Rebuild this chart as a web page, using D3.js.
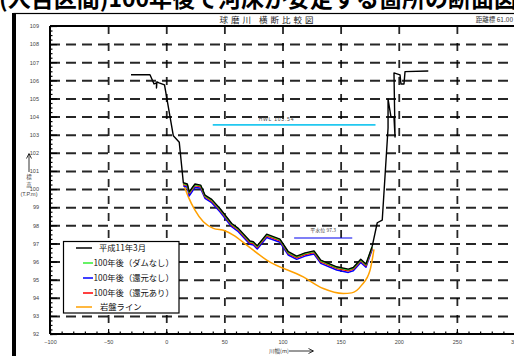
<!DOCTYPE html>
<html>
<head>
<meta charset="utf-8">
<script src="https://cdn.jsdelivr.net/npm/d3@7"></script>
<style>
  body { margin: 0; background: #fff; }
  svg { display: block; }
</style>
</head>
<body>
<svg id="chart" width="514" height="356"></svg>
<script>
// ---- data -------------------------------------------------------------
const xTickValues = [-100, -50, 0, 50, 100, 150, 200, 250, 300];
const yTickValues = [92, 93, 94, 95, 96, 97, 98, 99, 100, 101, 102, 103, 104, 105, 106, 107, 108, 109];

// surveyed section, March 1999 (distance m, elevation T.P.m)
const leftBank = [
  [-30.3, 106.31], [-14.0, 106.31], [-10.5, 105.80], [-8.4, 105.86], [-8.4, 105.58],
  [-8.0, 105.92], [-6.2, 105.86], [-1.5, 105.75], [6.1, 102.94], [11.2, 102.58]
];
const rightBank = [
  [181.5, 98.14], [185.8, 98.29], [190.8, 103.37], [190.8, 104.97], [193.3, 103.98],
  [195.9, 103.98], [196.8, 102.87], [195.9, 106.41], [201.1, 106.30], [201.9, 105.80],
  [204.5, 105.80], [205.4, 106.48], [225.4, 106.52]
];

// riverbed stations shared by the bed series
const bedX = [14.7, 18.1, 19.8, 24.7, 29.6, 33.3, 39.1, 46.2, 56.3, 62.0, 72.0, 74.9, 78.3,
  86.4, 97.8, 105.0, 112.2, 119.4, 127.1, 132.9, 146.6, 156.6, 160.9, 167.3, 171.8, 177.2];
const bedH11 = [100.35, 100.28, 99.85, 100.28, 100.22, 99.67, 99.43, 98.93, 98.10, 97.83, 97.13, 97.09, 96.87,
  97.51, 97.24, 96.54, 96.30, 96.48, 96.59, 96.08, 95.71, 95.58, 95.67, 96.13, 95.86, 96.85];
const bedNoDam = [100.31, 100.24, 99.81, 100.24, 100.18, 99.63, 99.39, 98.89, 98.06, 97.79, 97.09, 97.05, 96.83,
  97.47, 97.20, 96.50, 96.26, 96.44, 96.55, 96.04, 95.67, 95.54, 95.63, 96.09, 95.82, 96.81];
const bedNoReturn = [100.18, 100.10, 99.62, 100.10, 100.04, 99.49, 99.25, 98.75, 97.92, 97.65, 96.95, 96.91, 96.69,
  97.33, 97.06, 96.36, 96.12, 96.30, 96.41, 95.90, 95.53, 95.40, 95.49, 95.95, 95.68, 96.68];
const bedReturn = [100.26, 100.19, 99.76, 100.19, 100.13, 99.58, 99.34, 98.84, 98.01, 97.74, 97.04, 97.00, 96.78,
  97.42, 97.15, 96.45, 96.21, 96.39, 96.50, 95.99, 95.62, 95.49, 95.58, 96.04, 95.77, 96.76];

// bedrock line
const rockX = [14.7, 19.0, 24.7, 31.9, 40.5, 50.5, 57.7, 69.2, 86.4, 117.9, 135.1, 152.3, 159.5, 168.1, 175.3, 178.7];
const rockY = [100.31, 99.57, 98.84, 98.19, 97.83, 97.70, 97.46, 96.91, 96.08, 95.15, 94.51, 94.24, 94.27, 94.70, 95.52, 96.67];

// reference water levels
const hwlLevel = 103.54;
const hwlRange = [40, 180];
const lowWaterLevel = 97.3;
const lowWaterRange = [110, 160];

const legendItems = [
  { label: "平成11年3月", color: "#000000" },
  { label: "100年後（ダムなし）", color: "#33ee33" },
  { label: "100年後（還元なし）", color: "#0000ff" },
  { label: "100年後（還元あり）", color: "#ff0000" },
  { label: "岩盤ライン", color: "#ffa000" }
];

// ---- layout -----------------------------------------------------------
const svg = d3.select("#chart");
const jp = "'Noto Sans CJK JP', sans-serif";
const num = "'Liberation Sans', Arial, sans-serif";

const x = d3.scaleLinear().domain([-100, 300]).range([50, 515]);
const y = d3.scaleLinear().domain([92, 109]).range([334, 26]);
const plotW = x(300) - x(-100);
const plotH = y(92) - y(109);

// heading band
svg.append("text")
  .attr("x", -1).attr("y", 7)
  .attr("font-family", jp).attr("font-size", 23).attr("font-weight", "bold")
  .attr("fill", "#000")
  .text("(人吉区間)100年後で河床が安定する箇所の断面図");

// sheet frame
svg.append("rect")
  .attr("x", 14).attr("y", 13.5).attr("width", 600).attr("height", 400)
  .attr("fill", "#fff").attr("stroke", "#000").attr("stroke-width", 1.2);
svg.append("rect")
  .attr("x", 12).attr("y", 13).attr("width", 4).attr("height", 343)
  .attr("fill", "#000");

svg.append("text")
  .attr("x", 268).attr("y", 23)
  .attr("text-anchor", "middle")
  .attr("font-family", jp).attr("font-size", 8.5).attr("letter-spacing", 3)
  .attr("fill", "#222")
  .text("球磨川 横断比較図");

svg.append("text")
  .attr("x", 513).attr("y", 22)
  .attr("text-anchor", "end")
  .attr("font-family", jp).attr("font-size", 6.5)
  .attr("fill", "#333")
  .text("距離標 61.00");

// ---- grid (dashed) ----------------------------------------------------
const hGrid = svg.append("g")
  .attr("transform", `translate(${x(-100)},0)`)
  .call(d3.axisLeft(y).tickValues(yTickValues.filter(v => v > 92 && v < 109))
    .tickSize(-plotW).tickFormat(""));
const vGrid = svg.append("g")
  .attr("transform", `translate(0,${y(109)})`)
  .call(d3.axisBottom(x).tickValues(xTickValues.filter(v => v > -100 && v < 300))
    .tickSize(plotH).tickFormat(""));
hGrid.select(".domain").remove();
vGrid.select(".domain").remove();
hGrid.selectAll(".tick line")
  .attr("stroke", "#000").attr("stroke-opacity", 0.85)
  .attr("stroke-width", 2).attr("stroke-dasharray", "10,6");
vGrid.selectAll(".tick line")
  .attr("stroke", "#000").attr("stroke-opacity", 0.85)
  .attr("stroke-width", 1.8).attr("stroke-dasharray", "8,9");

// plot border (top, left, bottom)
const border = svg.append("g").attr("stroke", "#000").attr("stroke-width", 2);
border.append("line").attr("x1", x(-100)).attr("x2", x(300)).attr("y1", y(109)).attr("y2", y(109));
border.append("line").attr("x1", x(-100)).attr("x2", x(-100)).attr("y1", y(109)).attr("y2", y(92));
border.append("line").attr("x1", x(-100)).attr("x2", x(300)).attr("y1", y(92)).attr("y2", y(92));

// ---- axes -------------------------------------------------------------
const yAxis = svg.append("g")
  .attr("transform", `translate(${x(-100)},0)`)
  .call(d3.axisLeft(y).tickValues(yTickValues).tickSize(-7).tickPadding(11));
const yMinor = svg.append("g")
  .attr("transform", `translate(${x(-100)},0)`)
  .call(d3.axisLeft(y).tickValues(d3.range(92, 109.001, 0.25)).tickSize(-2.5).tickFormat(""));
const xAxis = svg.append("g")
  .attr("transform", `translate(0,${y(92)})`)
  .call(d3.axisBottom(x).tickValues(xTickValues).tickSize(-5).tickPadding(6));
const xMinor = svg.append("g")
  .attr("transform", `translate(0,${y(92)})`)
  .call(d3.axisBottom(x).tickValues(d3.range(-100, 300.001, 10)).tickSize(-2.5).tickFormat(""));

[yAxis, yMinor, xAxis, xMinor].forEach(g => {
  g.select(".domain").remove();
  g.selectAll(".tick line").attr("stroke", "#000").attr("stroke-width", 1.2);
  g.selectAll(".tick text")
    .attr("font-family", num).attr("font-size", 5.5).attr("fill", "#444");
});

// axis titles
svg.append("line").attr("x1", 29).attr("x2", 29).attr("y1", 172).attr("y2", 154)
  .attr("stroke", "#000").attr("stroke-width", 0.8);
svg.append("path").attr("d", "M26.5,158.5L29,153.5L31.5,158.5")
  .attr("fill", "none").attr("stroke", "#000").attr("stroke-width", 0.8);
svg.append("text").attr("x", 29).attr("y", 179).attr("text-anchor", "middle")
  .attr("font-family", jp).attr("font-size", 5.5).attr("fill", "#333").text("標");
svg.append("text").attr("x", 29).attr("y", 186.5).attr("text-anchor", "middle")
  .attr("font-family", jp).attr("font-size", 5.5).attr("fill", "#333").text("高");
svg.append("text").attr("x", 29).attr("y", 196).attr("text-anchor", "middle")
  .attr("font-family", num).attr("font-size", 5.5).attr("fill", "#444").text("(T.P.m)");

svg.append("text").attr("x", 279).attr("y", 353).attr("text-anchor", "middle")
  .attr("font-family", jp).attr("font-size", 5.5).attr("fill", "#333").text("川幅(m)");
svg.append("line").attr("x1", 289).attr("x2", 313).attr("y1", 351).attr("y2", 351)
  .attr("stroke", "#000").attr("stroke-width", 0.8);
svg.append("path").attr("d", "M308.5,348.5L313.5,351L308.5,353.5")
  .attr("fill", "none").attr("stroke", "#000").attr("stroke-width", 0.8);

// ---- water levels -----------------------------------------------------
svg.append("line")
  .attr("x1", x(hwlRange[0])).attr("x2", x(hwlRange[1]))
  .attr("y1", y(hwlLevel)).attr("y2", y(hwlLevel))
  .attr("stroke", "#22c8f0").attr("stroke-width", 1.6);
svg.append("text")
  .attr("x", x(79.5)).attr("y", y(hwlLevel) - 3.5)
  .attr("font-family", num).attr("font-size", 5).attr("letter-spacing", 0.8)
  .attr("fill", "#444").text("HWL 103.54");

svg.append("line")
  .attr("x1", x(lowWaterRange[0])).attr("x2", x(lowWaterRange[1]))
  .attr("y1", y(lowWaterLevel)).attr("y2", y(lowWaterLevel))
  .attr("stroke", "#0000ee").attr("stroke-width", 1.2);
svg.append("text")
  .attr("x", x(135)).attr("y", y(lowWaterLevel) - 6)
  .attr("text-anchor", "middle")
  .attr("font-family", jp).attr("font-size", 5).attr("fill", "#444").text("平水位 97.3");

// ---- sections ---------------------------------------------------------
const sectionLine = d3.line().x(d => x(d[0])).y(d => y(d[1]));
const zipBed = ys => bedX.map((v, i) => [v, ys[i]]);

svg.append("path")
  .datum(rockX.map((v, i) => [v, rockY[i]]))
  .attr("d", d3.line().x(d => x(d[0])).y(d => y(d[1])).curve(d3.curveMonotoneX))
  .attr("fill", "none").attr("stroke", "#ffa000").attr("stroke-width", 1.5);

[[bedNoReturn, "#0000ff"], [bedReturn, "#ff0000"], [bedNoDam, "#33ee33"]].forEach(([ys, c]) => {
  svg.append("path").datum(zipBed(ys)).attr("d", sectionLine)
    .attr("fill", "none").attr("stroke", c).attr("stroke-width", 1.5)
    .attr("stroke-linejoin", "round");
});

svg.append("path")
  .datum(leftBank.concat(zipBed(bedH11), rightBank))
  .attr("d", sectionLine)
  .attr("fill", "none").attr("stroke", "#000").attr("stroke-width", 1.4)
  .attr("stroke-linejoin", "round");

// ---- legend -----------------------------------------------------------
const lg = svg.append("g");
lg.append("rect")
  .attr("x", 63.5).attr("y", 241.5).attr("width", 115.5).attr("height", 71.5)
  .attr("fill", "#fff").attr("stroke", "#000").attr("stroke-width", 1.2);
const rowY = [248, 263, 278, 293, 307];
legendItems.forEach((it, i) => {
  const short = i >= 1 && i <= 3;
  lg.append("line")
    .attr("x1", short ? 83 : 76).attr("x2", short ? 93 : 92)
    .attr("y1", rowY[i]).attr("y2", rowY[i])
    .attr("stroke", it.color).attr("stroke-width", 1.5);
  lg.append("text")
    .attr("x", short ? 93.5 : (i === 0 ? 99 : 100)).attr("y", rowY[i] + 3)
    .attr("font-family", jp).attr("font-size", 8.3).attr("fill", "#111")
    .text(it.label);
});
</script>
</body>
</html>
